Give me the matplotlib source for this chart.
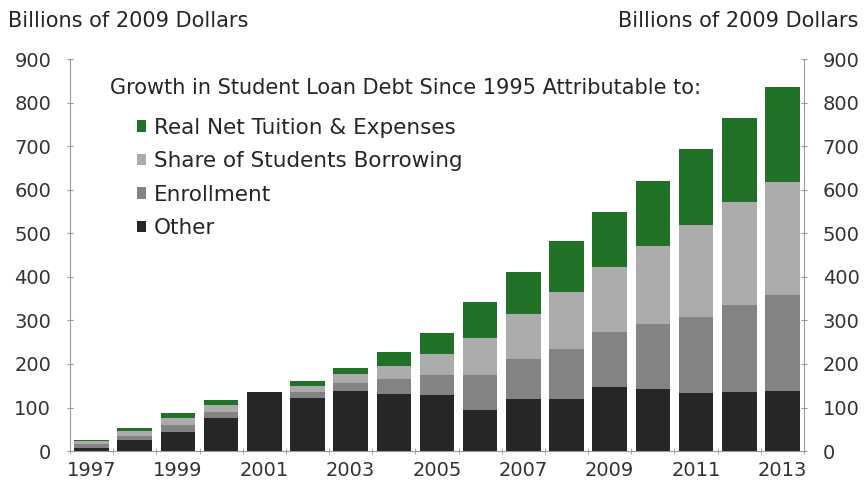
import numpy as np
import matplotlib.pyplot as plt
from matplotlib.patches import Patch

plt.rcParams['font.family'] = ['DejaVu Sans']

years = list(range(1997, 2014))
other = [8, 25, 44, 75, 136, 121, 138, 132, 128, 94, 119, 119, 148, 142, 134, 136, 139]
enrollment = [8, 10, 15, 15, 0, 14, 18, 34, 46, 80, 92, 115, 125, 149, 174, 199, 220]
share_borrowing = [7, 11, 18, 16, 0, 14, 20, 29, 50, 86, 104, 131, 149, 180, 212, 236, 259]
tuition = [2, 8, 10, 11, 0, 12, 14, 32, 48, 83, 96, 118, 128, 149, 173, 195, 217]

series = [
    ("Other", other, "#262626"),
    ("Enrollment", enrollment, "#838383"),
    ("Share of Students Borrowing", share_borrowing, "#acacac"),
    ("Real Net Tuition & Expenses", tuition, "#217227"),
]

fig = plt.figure(figsize=(8.64, 4.93), dpi=100)
ax = fig.add_axes([0.081, 0.085, 0.8496, 0.795])

x = np.arange(len(years))
bottom = np.zeros(len(years))
handles = {}
for name, vals, color in series:
    ax.bar(x, vals, width=0.8, bottom=bottom, color=color, linewidth=0)
    bottom += np.array(vals)
    handles[name] = Patch(facecolor=color)

ax.set_xlim(-0.5, len(years) - 0.5)
ax.set_ylim(0, 900)
ax.set_yticks(range(0, 901, 100))

# year labels every other bar, tick marks between bars
ax.set_xticks(x[::2])
ax.set_xticklabels([str(y) for y in years[::2]])
ax.set_xticks(np.arange(len(years) + 1) - 0.5, minor=True)
ax.tick_params(axis='x', which='major', length=0, pad=7, labelsize=14)
ax.tick_params(axis='x', which='minor', length=5, direction='inout', color='#999999')
ax.tick_params(axis='y', length=5, direction='inout', color='#999999',
               right=True, labelright=True, pad=11, labelsize=14)
ax.tick_params(labelcolor='#333333')

ax.spines['top'].set_visible(False)
for side in ['left', 'right', 'bottom']:
    ax.spines[side].set_color('#999999')

fig.text(0.009, 0.958, "Billions of 2009 Dollars", fontsize=15, color='#262626',
         ha='left', va='center')
fig.text(0.993, 0.958, "Billions of 2009 Dollars", fontsize=15, color='#262626',
         ha='right', va='center')

ax.text(0.054, 0.926, "Growth in Student Loan Debt Since 1995 Attributable to:",
        transform=ax.transAxes, fontsize=15, color='#262626', va='center')

order = ["Real Net Tuition & Expenses", "Share of Students Borrowing", "Enrollment", "Other"]
ax.legend([handles[n] for n in order], order, loc='upper left',
          bbox_to_anchor=(0.091, 0.85), frameon=False, fontsize=15.5,
          handlelength=0.45, handleheight=0.45, handletextpad=0.35,
          labelspacing=0.62, borderaxespad=0, borderpad=0, labelcolor='#262626')

fig.savefig("out.png", dpi=100)
